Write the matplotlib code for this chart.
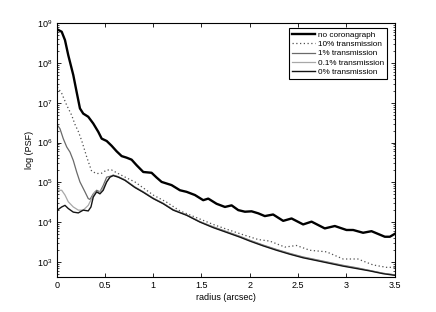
import numpy as np
import matplotlib
matplotlib.use('Agg')
import matplotlib.pyplot as plt

plt.rcParams['font.family'] = ['Liberation Sans', 'DejaVu Sans']
plt.rcParams['mathtext.fontset'] = 'custom'
plt.rcParams['mathtext.rm'] = 'Liberation Sans'

# radius (arcsec) and log10(PSF)
r_noc = [0.006, 0.052, 0.086, 0.120, 0.172, 0.207, 0.241, 0.275, 0.327, 0.379,
         0.431, 0.466, 0.518, 0.569, 0.621, 0.673, 0.725, 0.776, 0.828, 0.897,
         0.983, 1.035, 1.087, 1.190, 1.277, 1.346, 1.432, 1.518, 1.570, 1.656,
         1.743, 1.812, 1.881, 1.950, 2.019, 2.087, 2.156, 2.242, 2.346, 2.433,
         2.553, 2.640, 2.777, 2.881, 3.002, 3.071, 3.174, 3.261, 3.399, 3.451, 3.5]
l_noc = [8.85, 8.79, 8.58, 8.20, 7.70, 7.27, 6.86, 6.73, 6.65, 6.48,
         6.27, 6.10, 6.04, 5.92, 5.78, 5.66, 5.62, 5.57, 5.43, 5.26,
         5.24, 5.12, 5.01, 4.93, 4.80, 4.76, 4.68, 4.55, 4.59, 4.46,
         4.38, 4.42, 4.30, 4.26, 4.27, 4.22, 4.15, 4.19, 4.03, 4.09,
         3.94, 4.01, 3.84, 3.90, 3.80, 3.80, 3.73, 3.77, 3.63, 3.63, 3.70]

r_10 = [0.006, 0.052, 0.104, 0.155, 0.189, 0.224, 0.259, 0.311, 0.362, 0.414,
        0.466, 0.518, 0.569, 0.638, 0.742, 0.810, 0.862, 1.000, 1.139, 1.277,
        1.449, 1.621, 1.760, 1.932, 2.087, 2.208, 2.364, 2.484, 2.622, 2.795,
        2.967, 3.119, 3.278, 3.416, 3.5]
l_10 = [7.40, 7.24, 6.94, 6.69, 6.46, 6.28, 6.05, 5.64, 5.28, 5.22,
        5.23, 5.31, 5.31, 5.22, 5.09, 5.01, 4.92, 4.68, 4.50, 4.28,
        4.11, 3.94, 3.82, 3.68, 3.56, 3.52, 3.37, 3.41, 3.29, 3.25,
        3.07, 3.07, 2.92, 2.86, 2.86]

r_1 = [0.010, 0.034, 0.068, 0.104, 0.138, 0.172, 0.207, 0.241, 0.293, 0.327,
       0.345, 0.379, 0.414, 0.448, 0.482, 0.518, 0.552, 0.586, 0.638, 0.707,
       0.810, 0.896, 1.000, 1.104, 1.207, 1.346, 1.483, 1.621, 1.760, 1.898,
       2.002, 2.139, 2.277, 2.415, 2.553, 2.692, 2.829, 2.967, 3.106, 3.243,
       3.381, 3.5]
l_1 = [6.43, 6.35, 6.10, 5.89, 5.76, 5.55, 5.26, 5.01, 4.76, 4.59,
       4.57, 4.71, 4.80, 4.76, 4.92, 5.13, 5.15, 5.18, 5.14, 5.06,
       4.88, 4.76, 4.60, 4.47, 4.31, 4.18, 4.01, 3.88, 3.76, 3.64,
       3.54, 3.42, 3.31, 3.21, 3.12, 3.05, 2.98, 2.91, 2.85, 2.78,
       2.71, 2.67]

r_01 = [0.0, 0.052, 0.086, 0.120, 0.172, 0.224, 0.275, 0.327, 0.362, 0.396,
        0.431, 0.466, 0.518, 0.552, 0.586, 0.638, 0.707, 0.810, 0.896, 1.000,
        1.104, 1.207, 1.346, 1.483, 1.621, 1.760, 1.898, 2.002, 2.139, 2.277,
        2.415, 2.553, 2.692, 2.829, 2.967, 3.106, 3.243, 3.381, 3.5]
l_01 = [4.80, 4.80, 4.68, 4.51, 4.38, 4.30, 4.30, 4.42, 4.59, 4.76,
        4.74, 4.80, 5.02, 5.14, 5.18, 5.14, 5.06, 4.88, 4.76, 4.60,
        4.47, 4.31, 4.18, 4.01, 3.87, 3.75, 3.63, 3.53, 3.41, 3.30,
        3.20, 3.11, 3.04, 2.97, 2.90, 2.84, 2.78, 2.71, 2.67]

r_0 = [0.0, 0.052, 0.086, 0.120, 0.172, 0.224, 0.275, 0.327, 0.355, 0.379,
       0.414, 0.448, 0.482, 0.518, 0.552, 0.586, 0.638, 0.707, 0.810, 0.896,
       1.000, 1.104, 1.207, 1.346, 1.483, 1.621, 1.760, 1.898, 2.002, 2.139,
       2.277, 2.415, 2.553, 2.692, 2.829, 2.967, 3.106, 3.243, 3.381, 3.5]
l_0 = [4.29, 4.38, 4.42, 4.34, 4.25, 4.23, 4.30, 4.28, 4.38, 4.63,
       4.76, 4.71, 4.80, 5.01, 5.13, 5.17, 5.13, 5.05, 4.87, 4.75,
       4.59, 4.46, 4.30, 4.17, 4.00, 3.86, 3.74, 3.62, 3.52, 3.40,
       3.29, 3.19, 3.10, 3.03, 2.96, 2.89, 2.83, 2.77, 2.70, 2.66]

fig = plt.figure(figsize=(4.36, 3.12), dpi=100)
ax = fig.add_axes([0.130, 0.113, 0.775, 0.812])

ax.semilogy(r_noc, np.power(10.0, l_noc), color='black', lw=1.7, label='no coronagraph')
ax.semilogy(r_10, np.power(10.0, l_10), color='#505050', lw=0.9, ls=(0, (1, 2)), label='10% transmission')
ax.semilogy(r_1, np.power(10.0, l_1), color='#6a6a6a', lw=0.9, label='1% transmission')
ax.semilogy(r_01, np.power(10.0, l_01), color='#a8a8a8', lw=0.9, label='0.1% transmission')
ax.semilogy(r_0, np.power(10.0, l_0), color='#151515', lw=1.0, label='0% transmission')

ax.set_xlim(0, 3.5)
ax.set_ylim(420, 1e9)
ax.set_xticks(np.arange(0, 3.51, 0.5))
ax.set_xticklabels(['0', '0.5', '1', '1.5', '2', '2.5', '3', '3.5'])
ax.set_yticks([1e3, 1e4, 1e5, 1e6, 1e7, 1e8, 1e9])
ax.tick_params(which='both', direction='in', top=True, right=True, labelsize=6.5, pad=3)
ax.tick_params(which='major', length=3, width=0.6)
ax.tick_params(which='minor', length=1.5, width=0.5)
ax.tick_params(axis='x', which='minor', bottom=False, top=False)
for s in ax.spines.values():
    s.set_linewidth(0.8)

ax.set_xlabel('radius (arcsec)', fontsize=6.5, labelpad=2)
ax.set_ylabel('log (PSF)', fontsize=6.5, labelpad=2)

leg = ax.legend(loc='upper right', bbox_to_anchor=(0.977, 0.980), fontsize=5.9,
                handlelength=2.9, handletextpad=0.35, labelspacing=0.2,
                borderpad=0.3, borderaxespad=0, fancybox=False, framealpha=1)
leg.get_frame().set_edgecolor('black')
leg.get_frame().set_linewidth(0.8)

plt.savefig('out.png', dpi=100)
plt.close()
